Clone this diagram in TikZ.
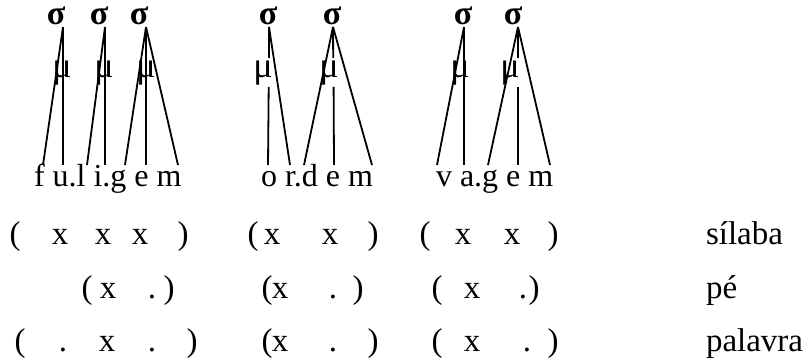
\documentclass[tikz,border=0pt]{standalone}
\usepackage{fontspec}
\setmainfont{Liberation Serif}
\begin{document}
\begin{tikzpicture}[x=1pt,y=-1pt,
  txt/.style={inner sep=0pt,outer sep=0pt,anchor=base,font=\fontsize{33}{38}\selectfont},
  seg/.style={txt,anchor=base west,font=\fontsize{32}{36}\selectfont},
  sig/.style={txt,font=\fontsize{34}{38}\selectfont\bfseries},
  mu/.style={txt,font=\fontsize{36}{40}\selectfont},
  ln/.style={line width=1.8pt}]
\useasboundingbox (0,0) rectangle (805,363);
% sigma nodes
\node[sig] (s1) at (56,25) {σ};
\node[sig] (s2) at (99,25) {σ};
\node[sig] (s3) at (139,25) {σ};
\node[sig] (s4) at (268,25) {σ};
\node[sig] (s5) at (332,25) {σ};
\node[sig] (s6) at (463,25) {σ};
\node[sig] (s7) at (513,25) {σ};
% mu nodes
\node[mu] (m1) at (62,78) {μ};
\node[mu] (m2) at (104,78) {μ};
\node[mu] (m3) at (146,78) {μ};
\node[mu] (m4) at (263,78) {μ};
\node[mu] (m5) at (329,78) {μ};
\node[mu] (m6) at (460,78) {μ};
\node[mu] (m7) at (510,78) {μ};
% segment strings
\node[seg] (w1) at (34,187) {f u.l i.g e m};
\node[seg] (w2) at (261,187) {o r.d e m};
\node[seg] (w3) at (436,187) {v a.g e m};
% apex and foot coordinates
\coordinate (a1) at (63,27);
\coordinate (a2) at (105,27);
\coordinate (a3) at (146,27);
\coordinate (a4) at (269,27);
\coordinate (a5) at (333,27);
\coordinate (a6) at (464,27);
\coordinate (a7) at (518,27);
\coordinate (f1a) at (43,165);  \coordinate (f1b) at (63,165);
\coordinate (f2a) at (87,165);  \coordinate (f2b) at (105,165);
\coordinate (f3a) at (125,165); \coordinate (f3b) at (146,165); \coordinate (f3c) at (178,165);
\coordinate (f4a) at (268,165); \coordinate (f4b) at (290,165);
\coordinate (f5a) at (304,165); \coordinate (f5b) at (334,165); \coordinate (f5c) at (372,165);
\coordinate (f6a) at (437,165); \coordinate (f6b) at (464,165);
\coordinate (f7a) at (488,165); \coordinate (f7b) at (518,165); \coordinate (f7c) at (550,165);
\coordinate (g4t) at (268.9,58); \coordinate (g4b) at (268.7,87);
\coordinate (g5t) at (333.2,58); \coordinate (g5b) at (333.6,87);
\coordinate (g7t) at (518,58); \coordinate (g7b) at (518,87);
% association lines
\draw[ln] (a1) -- (f1a);
\draw[ln] (a1) -- (f1b);
\draw[ln] (a2) -- (f2a);
\draw[ln] (a2) -- (f2b);
\draw[ln] (a3) -- (f3a);
\draw[ln] (a3) -- (f3b);
\draw[ln] (a3) -- (f3c);
\draw[ln] (a4) -- (g4t);
\draw[ln] (g4b) -- (f4a);
\draw[ln] (a4) -- (f4b);
\draw[ln] (a5) -- (f5a);
\draw[ln] (a5) -- (g5t);
\draw[ln] (g5b) -- (f5b);
\draw[ln] (a5) -- (f5c);
\draw[ln] (a6) -- (f6a);
\draw[ln] (a6) -- (f6b);
\draw[ln] (a7) -- (f7a);
\draw[ln] (a7) -- (g7t);
\draw[ln] (g7b) -- (f7b);
\draw[ln] (a7) -- (f7c);
% grid rows
\foreach \t/\x [count=\i] in {{(}/15,x/60,x/103,x/140,{)}/183,{(}/253,x/272,x/330,{)}/373,{(}/425,x/463,x/512,{)}/553}
  \node[txt] (ra\i) at (\x,244) {\t};
\foreach \t/\x [count=\i] in {{(}/87,x/108,./152,{)}/169,{(}/267,x/280,./333,{)}/358,{(}/437,x/472,./523,{)}/534}
  \node[txt] (rb\i) at (\x,298) {\t};
\foreach \t/\x [count=\i] in {{(}/20,./63,x/107,./152,{)}/192,{(}/267,x/280,./333,{)}/373,{(}/437,x/472,./527,{)}/553}
  \node[txt] (rc\i) at (\x,351) {\t};
% labels
\node[txt,anchor=base west] (l1) at (706,244) {sílaba};
\node[txt,anchor=base west] (l2) at (706,298) {pé};
\node[txt,anchor=base west] (l3) at (706,351) {palavra};
\end{tikzpicture}
\end{document}
